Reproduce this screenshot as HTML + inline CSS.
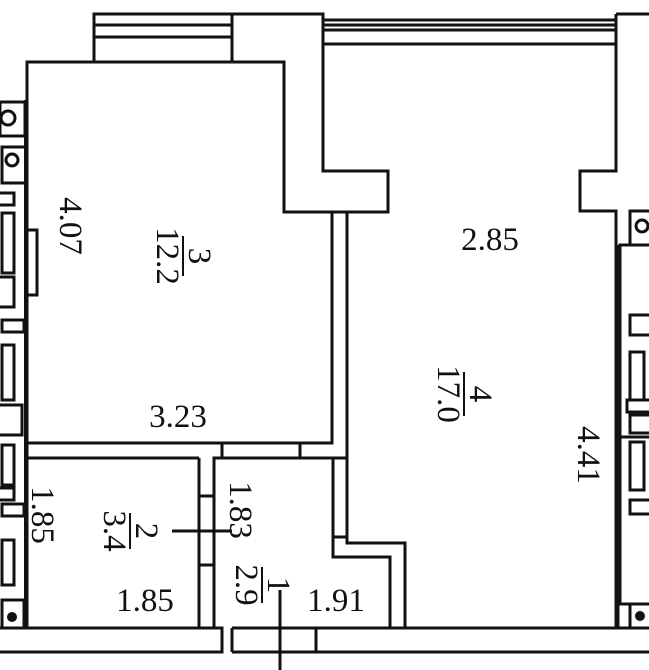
<!DOCTYPE html>
<html><head><style>
html,body{margin:0;padding:0;background:#fff;}
svg{display:block;}
text{font-family:"Liberation Serif",serif;font-size:33px;fill:#111;}
</style></head><body>
<svg width="649" height="670" viewBox="0 0 649 670" xmlns="http://www.w3.org/2000/svg">
<g fill="none" stroke="#111" stroke-width="3">
<!-- top left block -->
<polyline points="94,62 94,14 323,14 323,171 388,171 388,212 332,212"/>
<line x1="232" y1="14" x2="232" y2="62"/>
<line x1="94" y1="25" x2="232" y2="25"/>
<line x1="94" y1="37" x2="232" y2="37"/>
<!-- room 3 -->
<polyline points="27,628 27,62 284,62 284,212 332,212 332,443 27,443"/>
<polyline points="347,212 347,458 332,458"/>
<line x1="27" y1="458" x2="199" y2="458"/>
<line x1="199" y1="458" x2="199" y2="628"/>
<polyline points="214,628 214,458 332,458"/>
<line x1="222" y1="443" x2="222" y2="458"/>
<line x1="300" y1="443" x2="300" y2="458"/>
<line x1="199" y1="496" x2="214" y2="496"/>
<line x1="199" y1="565" x2="214" y2="565"/>
<!-- room1 jog -->
<polyline points="333,458 333,557 390,557 390,628"/>
<polyline points="347,458 347,543 405,543 405,628"/>
<line x1="333" y1="537" x2="347" y2="537"/>
<!-- top right -->
<polyline points="323,14 323,44 616,44"/>
<line x1="323" y1="20" x2="616" y2="20"/>
<line x1="323" y1="25" x2="616" y2="25"/>
<line x1="323" y1="30" x2="616" y2="30"/>
<polyline points="616,14 649,14"/>
<polyline points="616,14 616,171 580,171 580,211 616,211 616,628"/>
<!-- bottom wall -->
<polyline points="0,628 222,628 222,652 0,652"/>
<polyline points="649,628 232,628"/>
<polyline points="232,652 649,652"/>
<line x1="232" y1="628" x2="232" y2="652"/>
<line x1="316" y1="628" x2="316" y2="652"/>
<line x1="280" y1="590" x2="280" y2="670"/>
<line x1="172" y1="531" x2="232" y2="531"/>
<!-- left elements -->
<rect x="0" y="102" width="25" height="34"/>
<circle cx="8" cy="118" r="7"/>
<rect x="2" y="147" width="24" height="36"/>
<circle cx="12" cy="160" r="6"/>
<rect x="-2" y="193" width="16" height="12"/>
<rect x="2" y="213" width="12" height="60"/>
<rect x="27" y="230" width="10" height="65"/>
<rect x="-2" y="277" width="16" height="30"/>
<rect x="2" y="320" width="22" height="12"/>
<rect x="2" y="345" width="12" height="55"/>
<rect x="-2" y="405" width="24" height="30"/>
<rect x="2" y="445" width="12" height="40"/>
<rect x="-2" y="488" width="16" height="12"/>
<rect x="2" y="504" width="22" height="12"/>
<rect x="2" y="540" width="12" height="45"/>
<rect x="2" y="600" width="22" height="28"/>
<!-- right elements -->
<rect x="630" y="211" width="22" height="34"/>
<circle cx="642" cy="226" r="6"/>
<polyline points="649,245 620,245 620,604 649,604"/>
<rect x="630" y="315" width="22" height="20"/>
<rect x="630" y="352" width="14" height="48"/>
<rect x="627" y="400" width="25" height="12"/>
<rect x="630" y="415" width="22" height="18"/>
<rect x="630" y="442" width="14" height="48"/>
<rect x="630" y="500" width="22" height="14"/>
<line x1="616" y1="437" x2="649" y2="437"/>
<rect x="630" y="604" width="22" height="24"/>
</g>
<circle cx="12" cy="617" r="5" fill="#111"/>
<circle cx="640" cy="616" r="5" fill="#111"/>
<line x1="617" y1="245" x2="617" y2="628" stroke="#111" stroke-width="5"/>
<line x1="26" y1="100" x2="26" y2="628" stroke="#111" stroke-width="4"/>
<!-- labels -->
<text x="178" y="427" text-anchor="middle">3.23</text>
<text x="490" y="250" text-anchor="middle">2.85</text>
<text x="145" y="611" text-anchor="middle">1.85</text>
<text x="336" y="611" text-anchor="middle">1.91</text>
<g transform="translate(60,226) rotate(90)"><text x="0" y="0" text-anchor="middle">4.07</text></g>
<g transform="translate(578,455) rotate(90)"><text x="0" y="0" text-anchor="middle">4.41</text></g>
<g transform="translate(32,515) rotate(90)"><text x="0" y="0" text-anchor="middle">1.85</text></g>
<g transform="translate(230,510) rotate(90)"><text x="0" y="0" text-anchor="middle">1.83</text></g>
<g transform="translate(183,256) rotate(90)"><text x="0" y="-6" text-anchor="middle">3</text><text x="0" y="26" text-anchor="middle">12.2</text><line x1="-20" y1="0" x2="20" y2="0" stroke="#111" stroke-width="2"/></g>
<g transform="translate(464,394) rotate(90)"><text x="0" y="-6" text-anchor="middle">4</text><text x="0" y="26" text-anchor="middle">17.0</text><line x1="-22" y1="0" x2="22" y2="0" stroke="#111" stroke-width="2"/></g>
<g transform="translate(130,531) rotate(90)"><text x="0" y="-6" text-anchor="middle">2</text><text x="0" y="26" text-anchor="middle">3.4</text><line x1="-18" y1="0" x2="18" y2="0" stroke="#111" stroke-width="2"/></g>
<g transform="translate(262,585) rotate(90)"><text x="0" y="-6" text-anchor="middle">1</text><text x="0" y="26" text-anchor="middle">2.9</text><line x1="-18" y1="0" x2="18" y2="0" stroke="#111" stroke-width="2"/></g>
</svg>
</body></html>
